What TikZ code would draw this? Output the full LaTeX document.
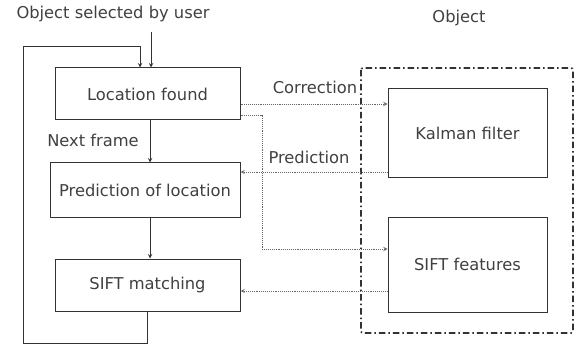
\documentclass[tikz,border=0pt]{standalone}
\usepackage{fontspec}
\setmainfont{DejaVu Sans}
\usetikzlibrary{positioning}

\begin{document}
\begin{tikzpicture}[x=1pt,y=-1pt,>=stealth,line width=1pt,color=black!80,
    font=\fontsize{16.3}{19}\selectfont,
    block/.style={rectangle,draw,inner sep=0pt,text=black!75},
    label/.style={text=black!75,inner sep=0pt},
    link/.style={->,densely dotted,line width=0.9pt,black!60},
    frame/.style={line width=1.8pt,dash pattern=on 6.5pt off 3pt on 1.5pt off 3pt}]

  \useasboundingbox (0,0) rectangle (577,347);

  % left column
  \node[block,minimum width=185pt,minimum height=52pt] (loc)  at (147.5,94)  {Location found};
  \node[block,minimum width=190pt,minimum height=54pt] (pred) at (145,190)   {Prediction of location};
  \node[block,minimum width=185pt,minimum height=52pt] (sm)   at (147.5,285) {SIFT matching};

  % object model
  \draw[frame,rounded corners=2pt] (361,68) rectangle (573,333);
  \node[block,minimum width=159pt,minimum height=89pt] (kal) at (467.5,133.5) {Kalman filter};
  \node[block,minimum width=159pt,minimum height=95pt] (sf)  at (467.5,264.5) {SIFT features};

  % texts
  \node[label] (user)  at (113,14) {Object selected by user};
  \node[label] (obj)   at (459,18) {Object};
  \node[label] (next)  at (93,140) {Next frame};
  \node[label] (corr)  at (315,87) {Correction};
  \node[label] (predl) at (309,157) {Prediction};

  \coordinate (in) at (151,32);
  \draw[->] (in) -- (in |- loc.north);
  \draw[->] (sm.south) -- ++(0,32) -| (23,47) -| ([xshift=-7.5pt]loc.north);
  \draw[->] ([xshift=2.5pt]loc.south) -- ([xshift=2.5pt]loc.south |- pred.north);
  \draw[->] ([xshift=2.5pt]loc.south |- pred.south) -- ([xshift=2.5pt]sm.north);

  \draw[link] ([yshift=-10pt]loc.east) -- ([yshift=-10pt]loc.east -| kal.west);
  \draw[link] ([yshift=-21pt]loc.east) -| (262,249) -- ([yshift=15.5pt]sf.west);
  \draw[link] ([yshift=-38.5pt]kal.west) -- ([yshift=-38.5pt]kal.west -| pred.east);
  \draw[link] ([yshift=-26.5pt]sf.west) -- ([yshift=-26.5pt]sf.west -| sm.east);
\end{tikzpicture}
\end{document}
